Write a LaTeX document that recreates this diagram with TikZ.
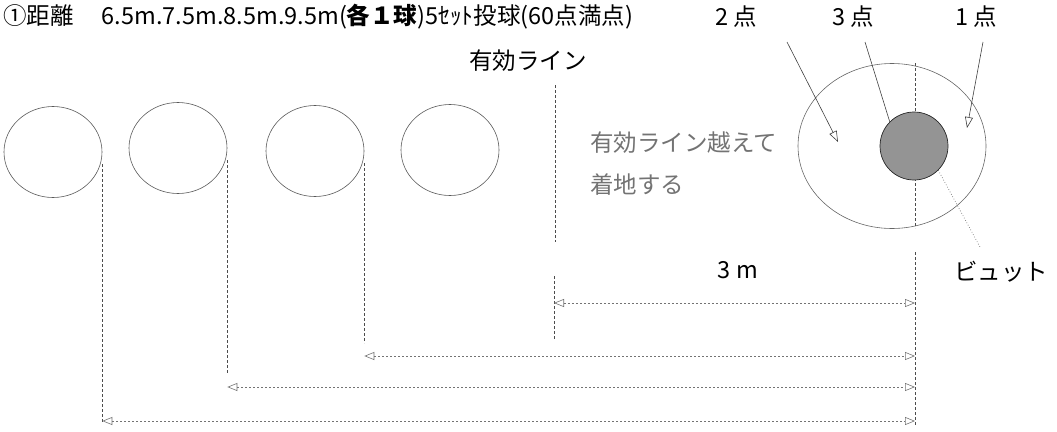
\documentclass[tikz,border=0pt]{standalone}
\usepackage{fontspec}
\setmainfont{Noto Sans CJK JP}
\usepackage{xcolor}
\usetikzlibrary{arrows.meta,shapes.geometric}

\tikzset{
  ball/.style={draw=black!65, ellipse, minimum width=98pt, minimum height=91pt, inner sep=0pt, line width=0.6pt},
  guide/.style={draw=black!70, densely dashed, line width=0.6pt},
  dist/.style={draw=black!55, dash pattern=on 2pt off 2pt, line width=0.6pt,
    {Triangle[open,length=10pt,width=8pt]}-{Triangle[open,length=10pt,width=8pt]}},
  pointer/.style={draw=black!75, line width=0.6pt, -{Triangle[open,length=11pt,width=8pt]}},
  lbl/.style={font=\fontsize{23.5}{27}\selectfont, inner sep=0pt},
}

\begin{document}
\begin{tikzpicture}[x=1pt,y=-1pt]
\useasboundingbox (0,0) rectangle (1057,431);

%draw title
\node[lbl, anchor=west] (title) at (3,17) {①距離\hspace{1.2em}6.5m.7.5m.8.5m.9.5m(\textbf{各１球})5ｾｯﾄ投球(60点満点)};
\node[lbl] (p2) at (736,17) {2 点};
\node[lbl] (p3) at (853,17) {3 点};
\node[lbl] (p1) at (976,17) {1 点};

%draw balls
\foreach \n/\x/\y in {1/53/152, 2/178/148, 3/315/151, 4/450/150}{
   \node[ball] (b\n) at (\x,\y) {};
}

%draw effective line
\node[lbl] (line) at (528,61) {有効ライン};
\coordinate (e1) at (555,85);
\coordinate (e2) at (555,242);
\coordinate (e3) at (554,276);
\coordinate (e4) at (554,340);
\draw[guide] (e1) -- (e2);
\draw[guide] (e3) -- (e4);
\node[lbl, anchor=west, text=black!55] (over) at (590,143) {有効ライン越えて};
\node[lbl, anchor=west, text=black!55] (land) at (590,185) {着地する};

%draw target
\node[draw=black!60, ellipse, minimum width=188pt, minimum height=165pt, line width=0.6pt] (target) at (892,146) {};
\coordinate (t1) at (915,63);
\coordinate (t2) at (915,228);
\draw[guide] (t1) -- (t2);
\node[circle, draw=black!85, fill=black!42, minimum size=68pt, inner sep=0pt, line width=0.7pt] (jack) at (914,146) {};
\node[lbl] (jacklbl) at (1001,272) {ビュット};

%draw pointers
\coordinate (s2) at (787,42);
\coordinate (s3) at (865,42);
\coordinate (s1) at (983,42);
\coordinate (h2) at (838,142);
\coordinate (h1) at (967,128);
\draw[pointer] (s2) -- (h2);
\draw[draw=black!75, line width=0.6pt] (s3) -- (jack.north west);
\draw[pointer] (s1) -- (h1);
\coordinate (j1) at (980,247);
\draw[draw=black!55, dotted, line width=0.7pt] (jack.south east) -- (j1);

%draw vertical lines
\coordinate (r1) at (915,252);
\coordinate (r2) at (915,425);
\draw[guide] (r1) -- (r2);
\foreach \n/\y in {1/423, 2/373, 3/343}{
   \coordinate (v\n) at ([yshift=-12pt]b\n.east);
   \draw[guide] (v\n) -- (v\n |- 0,\y);
}

%draw distances
\node[lbl] (three) at (738,270) {3 m};
\draw[dist] (e4 |- 0,303) -- (r1 |- 0,303);
\draw[dist] (v3 |- 0,356) -- (r1 |- 0,356);
\draw[dist] (v2 |- 0,387) -- (r1 |- 0,387);
\draw[dist] (v1 |- 0,421) -- (r1 |- 0,421);
\end{tikzpicture}
\end{document}
